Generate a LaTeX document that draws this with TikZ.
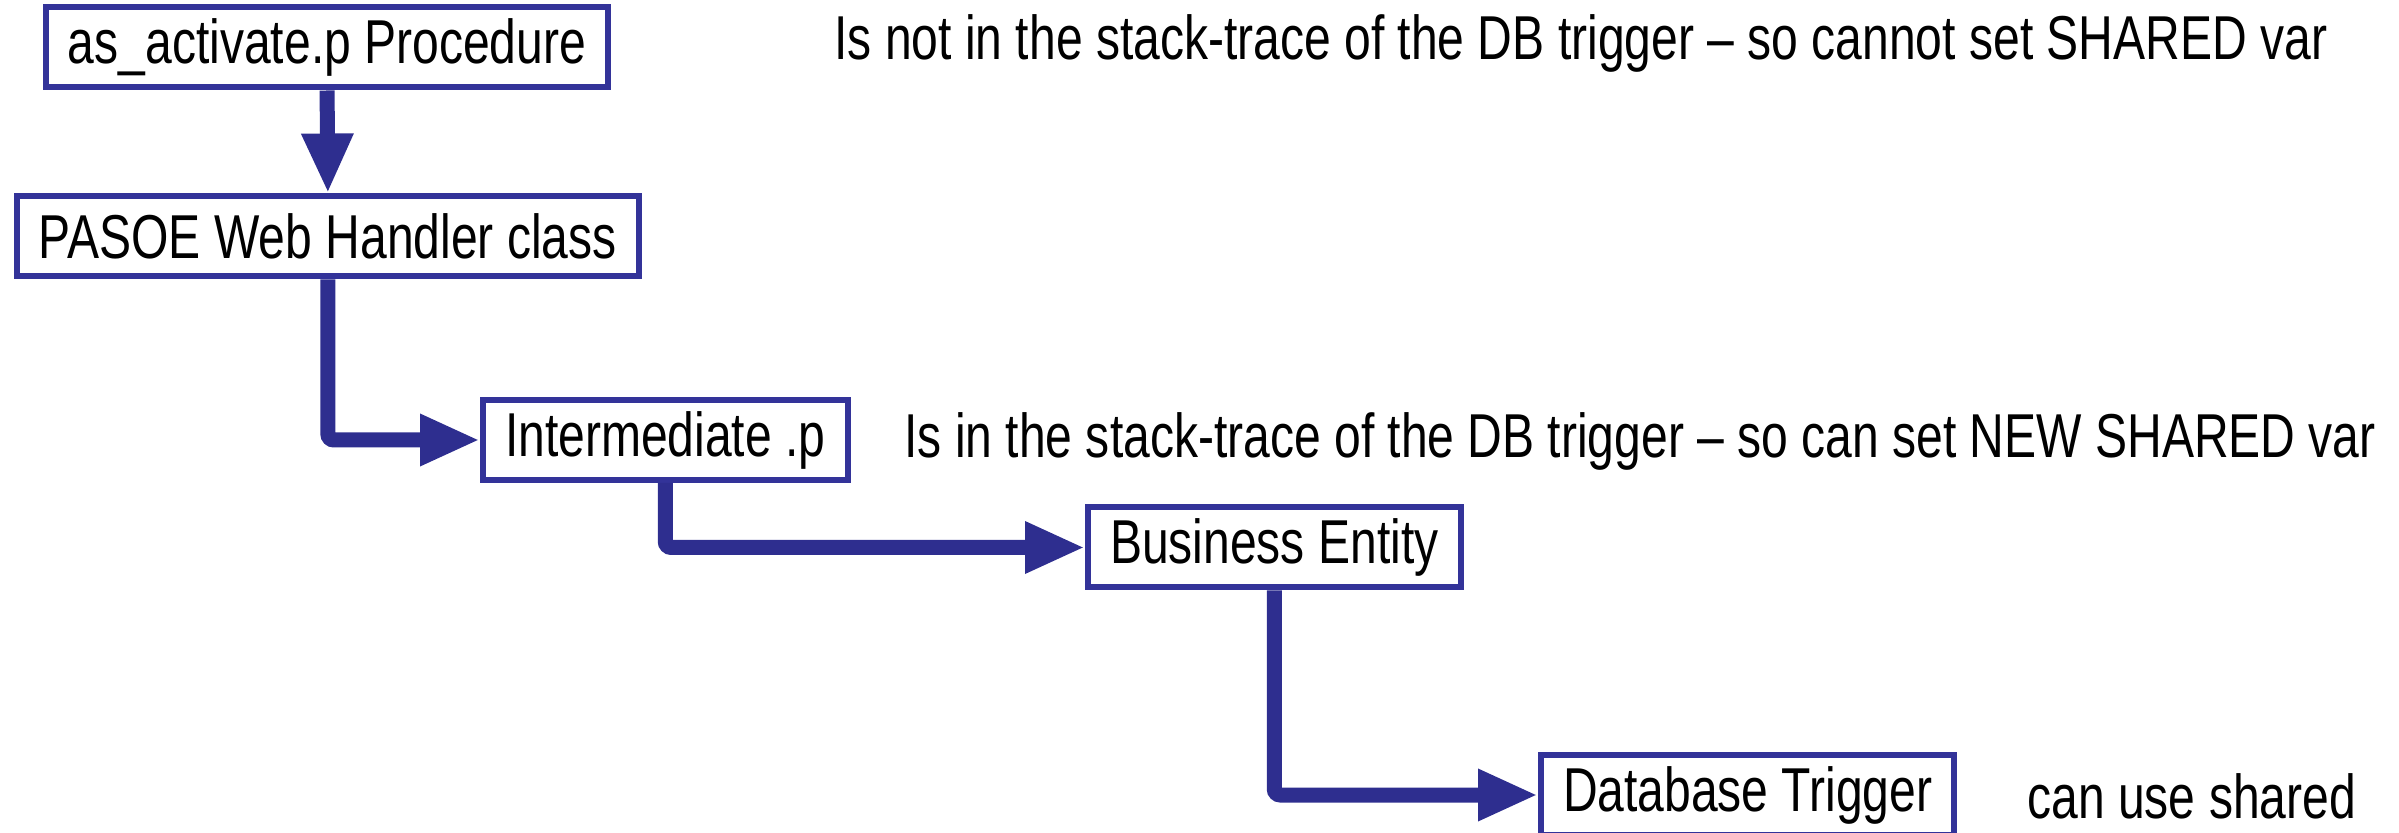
\documentclass[tikz,border=0pt]{standalone}
\usepackage{fontspec}
\setmainfont{Liberation Sans}[FakeStretch=0.775]
\usetikzlibrary{arrows.meta}

\definecolor{boxblue}{RGB}{51,51,153}
\definecolor{arrowblue}{RGB}{46,46,143}

\newcommand{\pxunit}{0.5pt}
\newcommand{\callfont}{\fontsize{31}{36}\selectfont}

\tikzset{
    callbox/.style={draw=boxblue, line width=3pt, fill=white, anchor=west,
        minimum height=40pt, inner xsep=11pt, font=\callfont},
    note/.style={anchor=west, inner sep=0pt, font=\callfont},
    callarrow/.style={draw=arrowblue, line width=7.5pt, rounded corners=3pt,
        -{Triangle[width=24pt, length=30pt]}}
}

\begin{document}
\begin{tikzpicture}[x=\pxunit, y=\pxunit]
    \useasboundingbox (0,0) rectangle (2399,-833);

    % Call chain.
    \node[callbox] (proc)     at (43,-47.5)    {as\_activate.p Procedure};
    \node[callbox] (handler)  at (14,-236.5)   {PASOE Web Handler class};
    \node[callbox] (interm)   at (480,-440)    {Intermediate .p};
    \node[callbox] (entity)   at (1085,-547.5) {Business Entity};
    \node[callbox] (trigger)  at (1538,-795)   {Database Trigger};

    % Notes.
    \node[note] (notshared) at (834,-43)  {Is not in the stack-trace of the DB trigger -- so cannot set SHARED var};
    \node[note] (newshared) at (904,-441) {Is in the stack-trace of the DB trigger -- so can set NEW SHARED var};
    \node[note] (useshared) at (2027,-796) {can use shared};

    % Calls.
    \draw[callarrow] (proc.south)    --  (handler.north);
    \draw[callarrow] (handler.south) |- (interm.west);
    \draw[callarrow] (interm.south)  |- (entity.west);
    \draw[callarrow] (entity.south)  |- (trigger.west);

\end{tikzpicture}
\end{document}
